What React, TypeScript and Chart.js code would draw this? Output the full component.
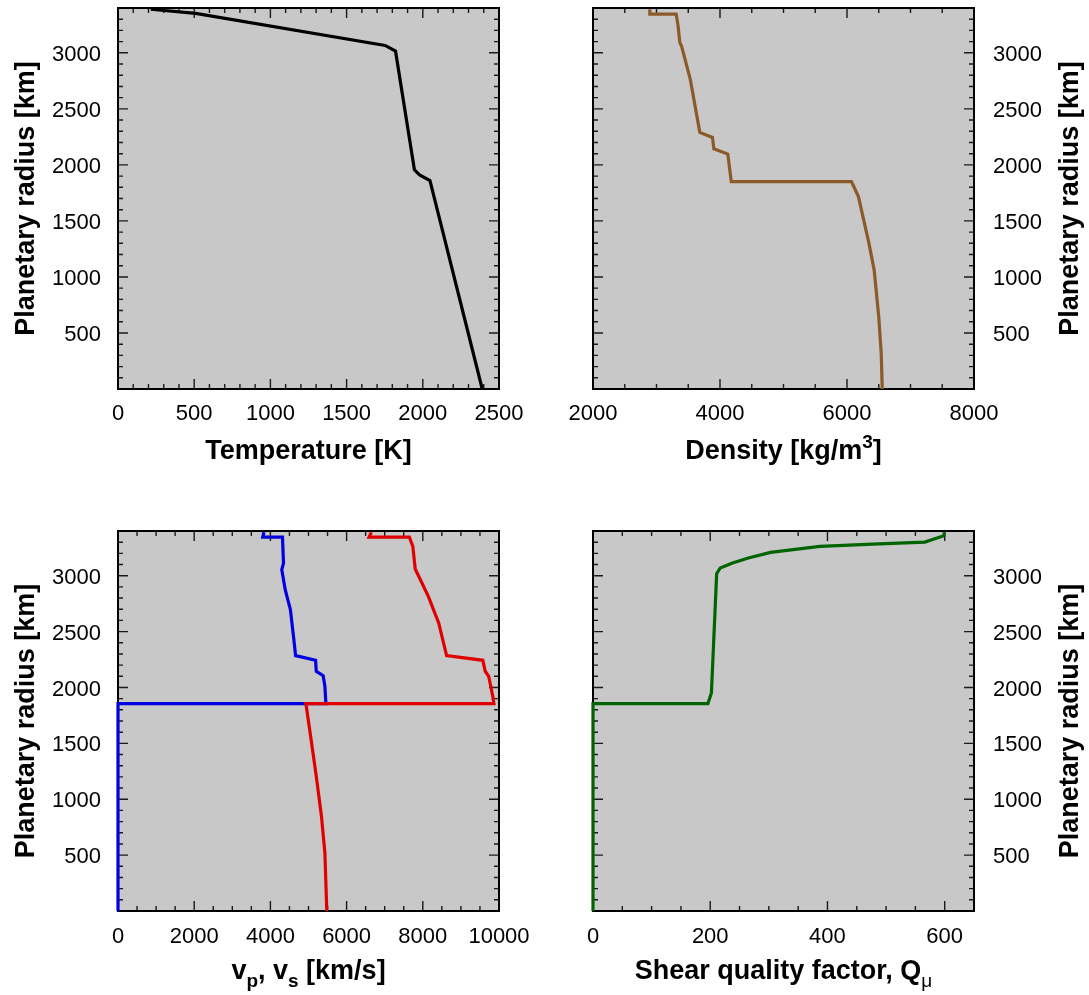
import React, { useEffect, useRef } from 'react';
import { Chart, registerables } from 'chart.js';

Chart.register(...registerables);

const FONT = '"Liberation Sans", Arial, Helvetica, sans-serif';

// ---------- data (radius in km) ----------
const RADIUS_MAX = 3400;

const tempRadius = [3389, 3352, 3066, 3015, 1956, 1911, 1860, 0];
const tempValues = [215, 509, 1753, 1821, 1945, 1979, 2047, 2390];

const densRadius = [3389, 3346, 3346, 3239, 3089, 3060, 2761, 2290, 2245, 2144, 2096, 1851, 1851, 1717, 1300, 1061, 643, 315, 0];
const densValues = [2895, 2895, 3310, 3340, 3368, 3395, 3533, 3682, 3881, 3903, 4123, 4178, 6070, 6180, 6346, 6428, 6500, 6539, 6555];

const vsRadius = [3389, 3346, 3346, 3113, 3054, 2875, 2696, 2428, 2285, 2243, 2145, 2106, 2011, 1856, 1856, 0];
const vsValues = [3830, 3800, 4317, 4344, 4299, 4389, 4525, 4616, 4661, 5186, 5204, 5385, 5430, 5457, 0, 0];

const vpRadius = [3389, 3346, 3346, 3262, 3060, 3009, 2815, 2577, 2285, 2243, 2145, 2100, 1921, 1856, 1856, 1534, 1206, 848, 521, 0];
const vpValues = [6650, 6590, 7647, 7738, 7801, 7874, 8145, 8417, 8625, 9575, 9638, 9729, 9837, 9865, 4932, 5068, 5204, 5340, 5430, 5480];

const qRadius = [3389, 3358, 3301, 3283, 3262, 3209, 3158, 3113, 3069, 3018, 1951, 1856, 1856, 0];
const qValues = [599, 599, 566, 477, 387, 303, 265, 238, 217, 211, 202, 196, 0, 0];

// axis definitions
const tempAxis = { min: 0, max: 2500, major: 500, minor: 100 };
const densAxis = { min: 2000, max: 8000, major: 2000, minor: 500 };
const velAxis = { min: 0, max: 10000, major: 2000, minor: 500 };
const qAxis = { min: 0, max: 650, major: 200, minor: 50 };
const radiusAxis = { min: 0, max: RADIUS_MAX, major: 500, minor: 100 };

// tick labels
const tempTicks = [0, 500, 1000, 1500, 2000, 2500];
const densTicks = [2000, 4000, 6000, 8000];
const velTicks = [0, 2000, 4000, 6000, 8000, 10000];
const qTicks = [0, 200, 400, 600];
const radiusTicks = [500, 1000, 1500, 2000, 2500, 3000];

const Y_TITLE = 'Planetary radius [km]';

type Seg = { t: string; s?: 'sub' | 'sup'; light?: boolean };

const tempTitle: Seg[] = [{ t: 'Temperature [K]' }];
const densTitle: Seg[] = [{ t: 'Density [kg/m' }, { t: '3', s: 'sup' }, { t: ']' }];
const velTitle: Seg[] = [{ t: 'v' }, { t: 'p', s: 'sub' }, { t: ', v' }, { t: 's', s: 'sub' }, { t: ' [km/s]' }];
const qTitle: Seg[] = [{ t: 'Shear quality factor, Q' }, { t: 'μ', s: 'sub', light: true }];

const TICK_FONT = `22px ${FONT}`;
const TITLE_SIZE = 27;

const toPoints = (xs: number[], ys: number[]) => xs.map((x, i) => ({ x, y: ys[i] }));

function isMajor(v: number, step: number) {
  const q = v / step;
  return Math.abs(q - Math.round(q)) < 1e-6;
}

function drawRich(ctx: CanvasRenderingContext2D, segs: Seg[], cx: number, baseline: number, size: number) {
  const fontFor = (seg: Seg) => {
    const sz = seg.s ? Math.round(size * 0.7) : size;
    return `${seg.light ? 'normal' : 'bold'} ${sz}px ${FONT}`;
  };
  const widths = segs.map((seg) => {
    ctx.font = fontFor(seg);
    return ctx.measureText(seg.t).width;
  });
  const total = widths.reduce((a, b) => a + b, 0);
  let x = cx - total / 2;
  ctx.textAlign = 'left';
  ctx.textBaseline = 'alphabetic';
  segs.forEach((seg, i) => {
    ctx.font = fontFor(seg);
    const dy = seg.s === 'sub' ? size * 0.3 : seg.s === 'sup' ? -size * 0.42 : 0;
    ctx.fillText(seg.t, x, baseline + dy);
    x += widths[i];
  });
}

type PanelCfg = {
  left: number;
  top: number;
  width: number;
  height: number;
  padding: { left: number; top: number; right: number; bottom: number };
  yWidth: number;
  xHeight: number;
  ySide: 'left' | 'right';
  xAxis: { min: number; max: number; major: number; minor: number };
  xTicks: number[];
  xLabelOffset: number;
  xTitle: Seg[];
  xTitleOffset: number;
  yTitleX: number;
  datasets: { data: { x: number; y: number }[]; color: string }[];
};

function makeFramePlugin(cfg: PanelCfg) {
  return {
    id: 'frame',
    beforeDraw(chart: any) {
      const { ctx, chartArea: a } = chart;
      ctx.save();
      ctx.fillStyle = '#c8c8c8';
      ctx.fillRect(a.left, a.top, a.right - a.left, a.bottom - a.top);
      ctx.restore();
    },
    beforeDatasetsDraw(chart: any) {
      const { ctx, chartArea: a, scales } = chart;
      const xs = scales.x;
      const ys = scales.y;
      ctx.save();
      ctx.strokeStyle = '#1a1a1a';
      ctx.lineWidth = 1.4;
      ctx.beginPath();
      const xa = cfg.xAxis;
      for (let i = 0; ; i++) {
        const v = xa.min + i * xa.minor;
        if (v > xa.max + 1e-9) break;
        const px = xs.getPixelForValue(v);
        const len = isMajor(v - xa.min, xa.major) ? 10 : 5;
        ctx.moveTo(px, a.bottom);
        ctx.lineTo(px, a.bottom - len);
        ctx.moveTo(px, a.top);
        ctx.lineTo(px, a.top + len);
      }
      const ya = radiusAxis;
      for (let i = 0; ; i++) {
        const v = ya.min + i * ya.minor;
        if (v > ya.max + 1e-9) break;
        const py = ys.getPixelForValue(v);
        const len = isMajor(v, ya.major) ? 10 : 5;
        ctx.moveTo(a.left, py);
        ctx.lineTo(a.left + len, py);
        ctx.moveTo(a.right, py);
        ctx.lineTo(a.right - len, py);
      }
      ctx.stroke();
      ctx.strokeStyle = '#000';
      ctx.lineWidth = 2;
      ctx.strokeRect(a.left, a.top, a.right - a.left, a.bottom - a.top);
      ctx.restore();
    },
    afterDraw(chart: any) {
      const { ctx, chartArea: a, scales } = chart;
      ctx.save();
      ctx.fillStyle = '#000';
      // tick labels
      ctx.font = TICK_FONT;
      ctx.textBaseline = 'middle';
      ctx.textAlign = 'center';
      cfg.xTicks.forEach((v) => {
        ctx.fillText(String(v), scales.x.getPixelForValue(v), a.bottom + cfg.xLabelOffset);
      });
      ctx.textAlign = cfg.ySide === 'left' ? 'right' : 'left';
      const lx = cfg.ySide === 'left' ? a.left - 17 : a.right + 19;
      radiusTicks.forEach((v) => {
        ctx.fillText(String(v), lx, scales.y.getPixelForValue(v) + 2);
      });
      // axis titles
      drawRich(ctx, cfg.xTitle, (a.left + a.right) / 2, a.bottom + cfg.xTitleOffset, TITLE_SIZE);
      ctx.translate(cfg.yTitleX, (a.top + a.bottom) / 2);
      ctx.rotate(-Math.PI / 2);
      ctx.font = `bold ${TITLE_SIZE}px ${FONT}`;
      ctx.textAlign = 'center';
      ctx.textBaseline = 'middle';
      ctx.fillText(Y_TITLE, 0, 0);
      ctx.restore();
    },
  };
}

function Panel({ cfg }: { cfg: PanelCfg }) {
  const ref = useRef<HTMLCanvasElement | null>(null);
  useEffect(() => {
    if (!ref.current) return;
    const chart = new Chart(ref.current, {
      type: 'line',
      data: {
        datasets: cfg.datasets.map((d) => ({
          data: d.data,
          borderColor: d.color,
          backgroundColor: d.color,
          borderWidth: 3.2,
          pointRadius: 0,
          pointHoverRadius: 0,
          fill: false,
          tension: 0,
          clip: false as any,
        })),
      },
      options: {
        responsive: false,
        animation: false,
        events: [],
        layout: { padding: cfg.padding },
        plugins: { legend: { display: false }, tooltip: { enabled: false } },
        scales: {
          x: {
            type: 'linear',
            position: 'bottom',
            min: cfg.xAxis.min,
            max: cfg.xAxis.max,
            grid: { display: false, drawTicks: false, tickLength: 0 },
            border: { display: false },
            ticks: { display: false, stepSize: cfg.xAxis.major },
            afterFit: (s: any) => {
              s.height = cfg.xHeight;
              s.paddingLeft = 0;
              s.paddingRight = 0;
              s.paddingTop = 0;
              s.paddingBottom = 0;
            },
          },
          y: {
            type: 'linear',
            position: cfg.ySide,
            min: radiusAxis.min,
            max: radiusAxis.max,
            grid: { display: false, drawTicks: false, tickLength: 0 },
            border: { display: false },
            ticks: { display: false, stepSize: radiusAxis.major },
            afterFit: (s: any) => {
              s.width = cfg.yWidth;
              s.paddingLeft = 0;
              s.paddingRight = 0;
              s.paddingTop = 0;
              s.paddingBottom = 0;
            },
          },
        },
      } as any,
      plugins: [makeFramePlugin(cfg)],
    });
    return () => chart.destroy();
  }, [cfg]);
  return (
    <canvas
      ref={ref}
      width={cfg.width}
      height={cfg.height}
      style={{ position: 'absolute', left: cfg.left, top: cfg.top, width: cfg.width, height: cfg.height }}
    />
  );
}

const panels: PanelCfg[] = [
  {
    left: 0, top: 0, width: 540, height: 490,
    padding: { left: 0, top: 8, right: 41, bottom: 0 },
    yWidth: 118, xHeight: 101, ySide: 'left',
    xAxis: tempAxis, xTicks: tempTicks, xLabelOffset: 25,
    xTitle: tempTitle, xTitleOffset: 70, yTitleX: 27,
    datasets: [{ data: toPoints(tempValues, tempRadius), color: '#000000' }],
  },
  {
    left: 540, top: 0, width: 549, height: 490,
    padding: { left: 53, top: 8, right: 0, bottom: 0 },
    yWidth: 115, xHeight: 101, ySide: 'right',
    xAxis: densAxis, xTicks: densTicks, xLabelOffset: 25,
    xTitle: densTitle, xTitleOffset: 70, yTitleX: 531,
    datasets: [{ data: toPoints(densValues, densRadius), color: '#8c5a28' }],
  },
  {
    left: 0, top: 490, width: 540, height: 505,
    padding: { left: 0, top: 41, right: 41, bottom: 0 },
    yWidth: 118, xHeight: 84, ySide: 'left',
    xAxis: velAxis, xTicks: velTicks, xLabelOffset: 26,
    xTitle: velTitle, xTitleOffset: 68, yTitleX: 27,
    datasets: [
      { data: toPoints(vpValues, vpRadius), color: '#e00000' },
      { data: toPoints(vsValues, vsRadius), color: '#0000e0' },
    ],
  },
  {
    left: 540, top: 490, width: 549, height: 505,
    padding: { left: 53, top: 41, right: 0, bottom: 0 },
    yWidth: 115, xHeight: 84, ySide: 'right',
    xAxis: qAxis, xTicks: qTicks, xLabelOffset: 26,
    xTitle: qTitle, xTitleOffset: 68, yTitleX: 531,
    datasets: [{ data: toPoints(qValues, qRadius), color: '#006400' }],
  },
];

export default function App() {
  return (
    <div style={{ position: 'absolute', left: 0, top: 0, width: 1089, height: 995, background: '#fff' }}>
      {panels.map((p, i) => (
        <Panel key={i} cfg={p} />
      ))}
    </div>
  );
}
